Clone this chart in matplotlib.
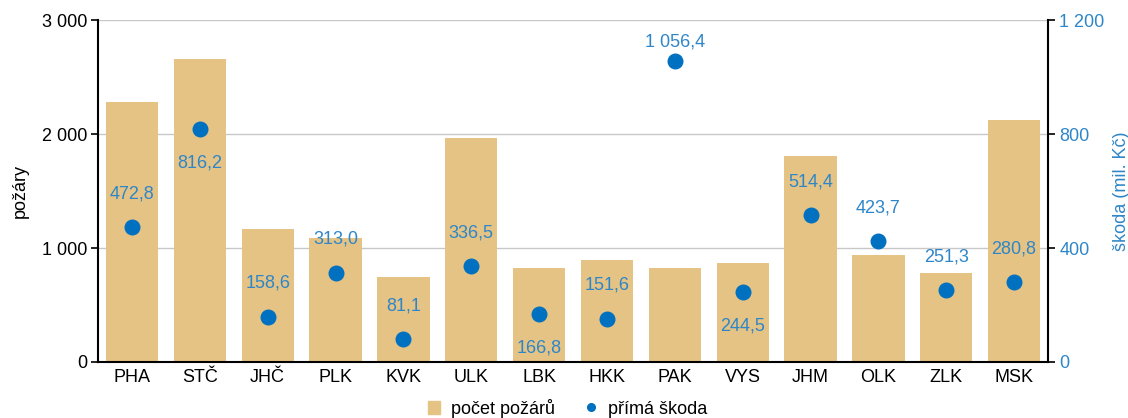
import matplotlib
matplotlib.use("Agg")
import matplotlib.pyplot as plt
from matplotlib.ticker import FuncFormatter
from matplotlib.lines import Line2D
from matplotlib.patches import Patch

plt.rcParams['font.family'] = ['Liberation Sans', 'DejaVu Sans']

# data
regions = ['PHA', 'STČ', 'JHČ', 'PLK', 'KVK', 'ULK', 'LBK', 'HKK', 'PAK', 'VYS', 'JHM', 'OLK', 'ZLK', 'MSK']
fires = [2281, 2658, 1167, 1088, 746, 1965, 825, 895, 825, 868, 1807, 939, 781, 2123]
damage = [472.8, 816.2, 158.6, 313.0, 81.1, 336.5, 166.8, 151.6, 1056.4, 244.5, 514.4, 423.7, 251.3, 280.8]
label_below = ['STČ', 'LBK', 'VYS']

bar_color = '#E5C384'
dot_color = '#0070C0'
text_blue = '#2E86C8'
fs = 13


def fmt(v, pos=None):
    return '{:,.0f}'.format(v).replace(',', ' ')


def fmt_dec(v):
    return '{:,.1f}'.format(v).replace(',', ' ').replace('.', ',')


fig = plt.figure(figsize=(11.28, 4.18), dpi=100)
ax = fig.add_axes([0.0869, 0.134, 0.8422, 0.818])
x = list(range(len(regions)))

# bars - number of fires
ax.bar(x, fires, width=0.77, color=bar_color, zorder=2)
ax.set_ylim(0, 3000)
ax.set_yticks([0, 1000, 2000, 3000])
ax.yaxis.set_major_formatter(FuncFormatter(fmt))
ax.set_xlim(-0.5, len(regions) - 0.5)
ax.set_xticks(x)
ax.set_xticklabels(regions)
ax.grid(axis='y', color='#C8C8C8', linewidth=1, zorder=0)
ax.set_axisbelow(True)
ax.set_ylabel('požáry', fontsize=fs, labelpad=9)
ax.tick_params(axis='y', labelsize=fs, length=5, width=1.2, direction='out', pad=3)
ax.tick_params(axis='x', labelsize=fs, length=0, pad=5)
for side in ['top', 'right']:
    ax.spines[side].set_visible(False)
ax.spines['left'].set_linewidth(1.5)
ax.spines['bottom'].set_linewidth(1.5)

# dots - direct damage
ax2 = ax.twinx()
ax2.scatter(x, damage, s=110, color=dot_color, zorder=5)
ax2.set_ylim(0, 1200)
ax2.set_yticks([0, 400, 800, 1200])
ax2.yaxis.set_major_formatter(FuncFormatter(fmt))
ax2.tick_params(axis='y', labelsize=fs, length=5, width=1.2, labelcolor=text_blue, pad=3)
ax2.set_ylabel('škoda (mil. Kč)', fontsize=fs, color=text_blue, labelpad=6)
for side in ['top', 'left', 'bottom']:
    ax2.spines[side].set_visible(False)
ax2.spines['right'].set_linewidth(1.5)

for xi, r, v in zip(x, regions, damage):
    off = -24 if r in label_below else 24
    if v > 1000:
        off = 14  # keep the top label inside the plot
    ax2.annotate(fmt_dec(v), (xi, v), xytext=(0, off), textcoords='offset points',
                 ha='center', va='center', fontsize=fs, color=text_blue)

handles = [Patch(color=bar_color, label='počet požárů'),
           Line2D([], [], marker='o', linestyle='none', color=dot_color, markersize=5.5, label='přímá škoda')]
fig.legend(handles=handles, loc='lower center', ncol=2, frameon=False, fontsize=fs,
           bbox_to_anchor=(0.503, -0.038), handlelength=0.7, handleheight=0.7,
           handletextpad=0.6, columnspacing=1.6)

fig.savefig('out.png', dpi=100)
